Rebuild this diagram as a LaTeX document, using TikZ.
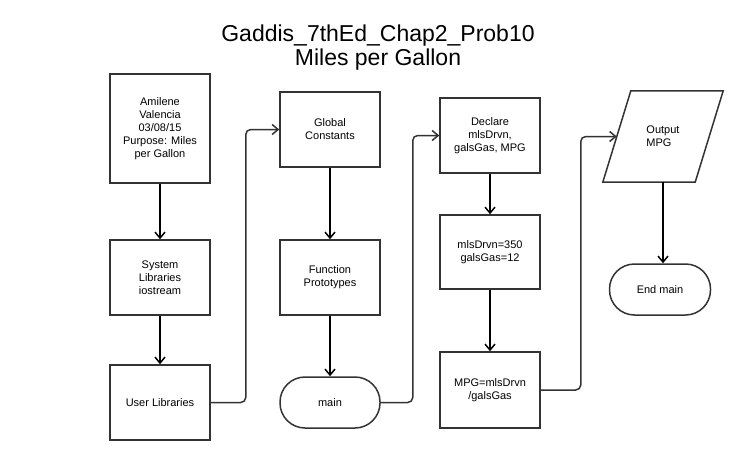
\documentclass[tikz,border=0pt]{standalone}
\usepackage{fontspec}
\setmainfont{Liberation Sans}
\usetikzlibrary{calc}
\usetikzlibrary{arrows.meta}

\begin{document}
\begin{tikzpicture}[x=1pt,y=-1pt,
		>={Straight Barb[length=6pt,width=10pt]},
		font=\fontsize{11}{13}\selectfont,
		process/.style={draw=black!80, line width=1.5pt, minimum width=100pt, minimum height=75pt, align=center, inner sep=0pt},
		terminal/.style={process, minimum height=51pt, rounded corners=25pt},
		io/.style={minimum width=92pt, minimum height=91pt, align=left, inner sep=0pt},
		flow/.style={->, line width=1.5pt},
		link/.style={->, line width=1.5pt, draw=black!80, rounded corners=5pt}]
			% page
			\path[use as bounding box, fill=white] (0,0) rectangle (736,460);
			% title
			\node[align=center, font=\fontsize{23}{23.5}\selectfont] (title) at (378,47.5) {Gaddis\_7thEd\_Chap2\_Prob10\\Miles per Gallon};
			% first column
			\node[process, minimum height=109pt] (info) at (160,128.5) {Amilene\\Valencia\\03/08/15\\Purpose: Miles\\per Gallon};
			\node[process] (syslib) at (160,277.5) {System\\Libraries\\iostream};
			\node[process] (userlib) at (160,402.5) {User Libraries};
			% second column
			\node[process] (global) at (330,129.5) {Global\\Constants};
			\node[process] (proto) at (330,277.5) {Function\\Prototypes};
			\node[terminal] (main) at (330,402.5) {main};
			% third column
			\node[process] (declare) at (490,135.5) {Declare\\mlsDrvn,\\galsGas, MPG};
			\node[process, minimum height=74pt] (assign) at (490,252) {mlsDrvn=350\\galsGas=12};
			\node[process, minimum height=76pt] (calc) at (490,390) {MPG=mlsDrvn\\/galsGas};
			% fourth column
			\node[io] (output) at (663,136.5) {Output\\MPG};
			\draw[draw=black!80, line width=1.5pt] ($(output.south west)+(-14,0)$) -- ($(output.north west)+(14,0)$)
				-- ($(output.north east)+(14,0)$) -- ($(output.south east)+(-14,0)$) -- cycle;
			\node[terminal, minimum width=101pt] (endmain) at (660,289.5) {End main};
			% arrows
			\draw[flow] (info) -- (syslib);
			\draw[flow] (syslib) -- (userlib);
			\draw[flow] (global) -- (proto);
			\draw[flow] (proto) -- (main);
			\draw[flow] (declare) -- (assign);
			\draw[flow] (assign) -- (calc);
			\draw[flow] (output.south) -- (output.south |- endmain.north);
			\draw[link] (userlib.east) -- ++(35,0) |- (global.west);
			\draw[link] (main.east) -- ++(32,0) |- (declare.west);
			\draw[link] (calc.east) -- ++(40,0) |- (output.west);
			
		\end{tikzpicture}
\end{document}
